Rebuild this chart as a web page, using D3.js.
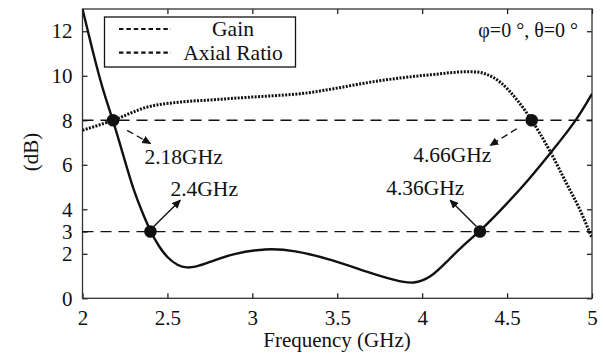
<!DOCTYPE html>
<html><head><meta charset="utf-8">
<script src="https://cdn.jsdelivr.net/npm/d3@7"></script>
<style>body{margin:0;background:#fff}svg{display:block}</style>
</head><body><svg id="c" width="603" height="360"></svg>
<script>
// ---- data ----
const gainFreq = [2.00,2.06,2.12,2.18,2.243,2.30,2.35,2.40,2.45,2.50,2.56,2.614,2.67,2.73,2.89,3.08,3.24,3.48,3.67,3.85,3.95,4.05,4.15,4.25,4.34,4.50,4.625,4.76,4.91,5.00];
const gainDB   = [13.0,11.1,9.34,8.0,6.35,4.86,3.9,3.0,2.32,1.82,1.47,1.36,1.42,1.57,2.03,2.24,2.17,1.72,1.19,0.78,0.64,0.92,1.68,2.45,3.0,4.26,5.3,6.57,8.0,9.19];
const arFreq = [2.00,2.18,2.38,2.58,2.77,2.97,3.16,3.28,3.48,3.67,3.87,4.07,4.26,4.32,4.38,4.46,4.56,4.645,4.75,4.85,4.93,5.00];
const arDB   = [7.55,8.0,8.59,8.82,8.92,9.03,9.12,9.19,9.42,9.68,9.90,10.06,10.18,10.17,10.06,9.71,8.9,8.0,6.65,5.16,3.96,2.7];
const refLevels = [8,3];
const markerF  = [2.18,2.40,4.34,4.645];
const markerDB = [8,3,3,8];
const annoText  = ["2.18GHz","2.4GHz","4.36GHz","4.66GHz"];
const annoTextF = [2.365,2.518,3.788,3.947];
const annoTextDB= [6.05,4.61,4.63,6.13];
const arrowFromF = [2.263,2.418,4.318,4.557];
const arrowFromDB= [7.55,3.21,3.24,7.62];
const arrowToF   = [2.40,2.576,4.165,4.40];
const arrowToDB  = [6.95,4.41,4.41,6.87];
const arrowDashed= [true,false,false,true];
const xTicks = [2,2.5,3,3.5,4,4.5,5];
const yTicks = [0,2,3,4,6,8,10,12];
const legendLabels = ["Gain","Axial Ratio"];
const xLabel = "Frequency (GHz)", yLabel = "(dB)";
const noteText = "φ=0 °, θ=0 °";

// ---- layout ----
const FONT = '"Liberation Serif"';
const svg = d3.select("#c");
const L=82.5, R=592, T=9, B=298.3;
const x = d3.scaleLinear().domain([2,5]).range([L,R]);
const y = d3.scaleLinear().domain([0,13]).range([B,T]);
const ink="#111";

const defs = svg.append("defs");
defs.append("clipPath").attr("id","clip").append("rect").attr("x",L).attr("y",T).attr("width",R-L).attr("height",B-T);
defs.append("marker").attr("id","ah").attr("viewBox","0 0 10 10").attr("refX",9).attr("refY",5)
  .attr("markerWidth",9).attr("markerHeight",9).attr("markerUnits","userSpaceOnUse").attr("orient","auto")
  .append("path").attr("d","M0,0.5L10,5L0,9.5Z").attr("fill",ink);

const fmt = d => String(d);
const ax = [
  d3.axisBottom(x).tickValues(xTicks).tickSize(-5).tickPadding(12).tickFormat(fmt),
  d3.axisTop(x).tickValues(xTicks).tickSize(-5).tickFormat(""),
  d3.axisLeft(y).tickValues(yTicks).tickSize(-5).tickPadding(10).tickFormat(fmt),
  d3.axisRight(y).tickValues(yTicks).tickSize(-5).tickFormat("")
];
const tr = [`translate(0,${B})`,`translate(0,${T})`,`translate(${L},0)`,`translate(${R},0)`];
ax.forEach((a,i)=>{
  const g = svg.append("g").attr("transform",tr[i]).call(a);
  g.attr("font-family",null).attr("font-size",null);
  g.select(".domain").remove();
  g.selectAll("line").attr("stroke",ink).attr("stroke-width",1.2);
  g.selectAll("text").attr("fill",ink).style("font-family",FONT).style("font-size","21px");
});
svg.append("rect").attr("x",L).attr("y",T).attr("width",R-L).attr("height",B-T)
  .attr("fill","none").attr("stroke","#333").attr("stroke-width",1.3);

svg.append("g").selectAll("line").data(refLevels).join("line")
  .attr("x1",L).attr("x2",R).attr("y1",d=>y(d)).attr("y2",d=>y(d))
  .attr("stroke",ink).attr("stroke-width",1.3).attr("stroke-dasharray","11,7");

const plot = svg.append("g").attr("clip-path","url(#clip)");
const line = d3.line().x(d=>x(d[0])).y(d=>y(d[1])).curve(d3.curveMonotoneX);
plot.append("path").datum(arFreq.map((f,i)=>[f,arDB[i]])).attr("d",line)
  .attr("fill","none").attr("stroke",ink).attr("stroke-width",3).attr("stroke-dasharray","2,1.4");
plot.append("path").datum(gainFreq.map((f,i)=>[f,gainDB[i]])).attr("d",d3.line().x(d=>x(d[0])).y(d=>y(d[1])).curve(d3.curveBasis))
  .attr("fill","none").attr("stroke",ink).attr("stroke-width",2.4);

svg.append("g").selectAll("circle").data(markerF).join("circle")
  .attr("cx",d=>x(d)).attr("cy",(d,i)=>y(markerDB[i])).attr("r",6.3).attr("fill",ink);

svg.append("g").selectAll("line").data(arrowFromF).join("line")
  .attr("x1",d=>x(d)).attr("y1",(d,i)=>y(arrowFromDB[i]))
  .attr("x2",(d,i)=>x(arrowToF[i])).attr("y2",(d,i)=>y(arrowToDB[i]))
  .attr("stroke",ink).attr("stroke-width",1.4)
  .attr("stroke-dasharray",(d,i)=>arrowDashed[i]?"7,4":null)
  .attr("marker-end","url(#ah)");

function txt(sel){ return sel.attr("fill",ink).style("font-family",FONT); }
txt(svg.append("g").selectAll("text").data(annoText).join("text"))
  .attr("x",(d,i)=>x(annoTextF[i])).attr("y",(d,i)=>y(annoTextDB[i]))
  .style("font-size","21.5px").text(d=>d);

const lg = svg.append("g");
lg.append("rect").attr("x",104.5).attr("y",17).attr("width",191).attr("height",50)
  .attr("fill","#fff").attr("stroke",ink).attr("stroke-width",1.3);
legendLabels.forEach((t,i)=>{
  const yy = 29 + i*23.7;
  lg.append("line").attr("x1",119).attr("x2",171).attr("y1",yy).attr("y2",yy)
    .attr("stroke",ink).attr("stroke-width",2.2).attr("stroke-dasharray","4.4,3");
  txt(lg.append("text")).attr("x",233).attr("y",yy+7).attr("text-anchor","middle").style("font-size","21.5px").text(t);
});

txt(svg.append("text")).attr("x",578).attr("y",37).attr("text-anchor","end").style("font-size","20px").text(noteText);
txt(svg.append("text")).attr("x",337).attr("y",347).attr("text-anchor","middle").style("font-size","21px").text(xLabel);
txt(svg.append("text")).attr("transform","translate(38,152) rotate(-90)").attr("text-anchor","middle").style("font-size","21px").text(yLabel);
</script></body></html>
